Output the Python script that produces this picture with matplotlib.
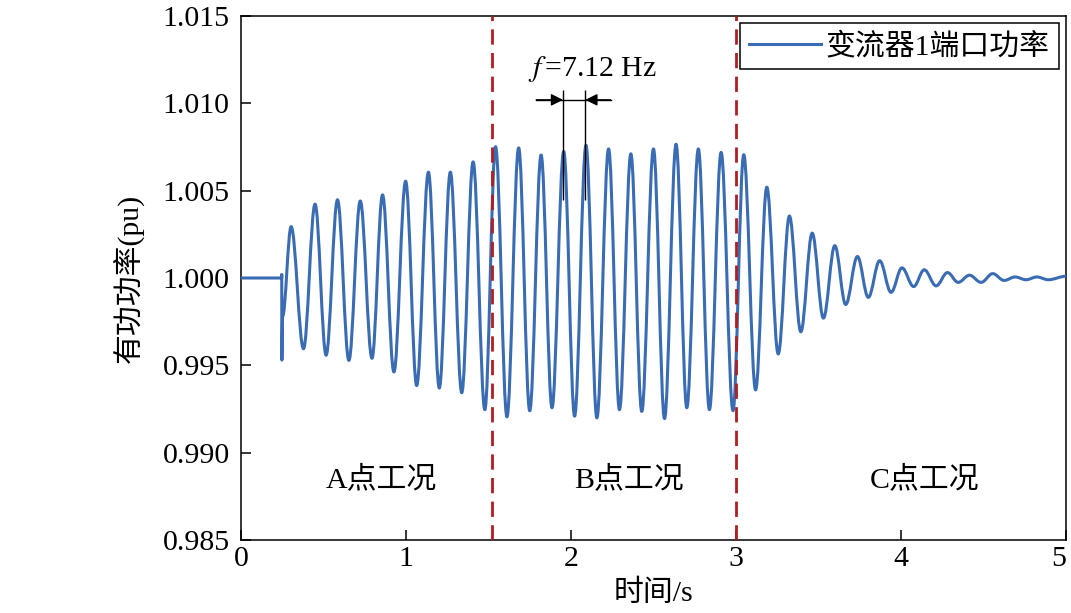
import matplotlib
matplotlib.use("Agg")
import matplotlib.pyplot as plt
from matplotlib.path import Path
from matplotlib.patches import PathPatch
from matplotlib.lines import Line2D
import matplotlib.transforms as mtransforms

plt.rcParams['font.family'] = ['Liberation Serif', 'Noto Sans CJK SC', 'DejaVu Sans']
plt.rcParams['mathtext.fontset'] = 'stix'
plt.rcParams['axes.unicode_minus'] = False

# ---- data ----
# flat start and the switching step
step_time = [0.0, 0.247, 0.247, 0.248, 0.252]
step_power = [1.0000, 1.0000, 1.0002, 0.9953, 0.9978]
# successive extrema (peak / trough) of the oscillation
ext_time = [0.304, 0.379, 0.449, 0.516, 0.585, 0.654, 0.723, 0.794, 0.858, 0.927,
            0.998, 1.065, 1.136, 1.202, 1.269, 1.338, 1.407, 1.478, 1.543, 1.612,
            1.683, 1.750, 1.819, 1.885, 1.956, 2.022, 2.091, 2.157, 2.228, 2.294,
            2.363, 2.429, 2.500, 2.567, 2.637, 2.702, 2.772, 2.839, 2.910, 2.982,
            3.047, 3.119, 3.187, 3.256, 3.324, 3.393, 3.462, 3.530, 3.599, 3.665,
            3.736, 3.802, 3.871, 3.940, 4.006, 4.077, 4.141, 4.213, 4.282, 4.347,
            4.415, 4.486, 4.556, 4.625, 4.692, 4.758, 4.823, 4.893, 5.0]
ext_power = [1.00294, 0.99595, 1.00423, 0.99558, 1.00448, 0.99528, 1.00441, 0.99540, 1.00476, 0.99462,
             1.00554, 0.99384, 1.00606, 0.99370, 1.00606, 0.99343, 1.00665, 0.99246, 1.00752, 0.99205,
             1.00745, 0.99240, 1.00704, 0.99257, 1.00725, 0.99209, 1.00760, 0.99199, 1.00739, 0.99246,
             1.00711, 0.99236, 1.00739, 0.99195, 1.00766, 0.99257, 1.00739, 0.99246, 1.00719, 0.99240,
             1.00706, 0.99359, 1.00520, 0.99565, 1.00355, 0.99692, 1.00257, 0.99770, 1.00185, 0.99848,
             1.00123, 0.99889, 1.00099, 0.99918, 1.00058, 0.99951, 1.00047, 0.99955, 1.00031, 0.99975,
             1.00016, 0.99975, 1.00025, 0.99986, 1.00006, 0.99990, 1.00006, 0.99990, 1.00010]

boundaries = [1.52, 3.0]
region_labels = ['A点工况', 'B点工况', 'C点工况']
region_label_x = [0.85, 2.35, 4.14]
region_label_y = 0.9885
series_label = '变流器1端口功率'
freq_text = r'$f\,$=7.12 Hz'
marked_peaks = [1.952, 2.087]

x_ticks = [0, 1, 2, 3, 4, 5]
y_ticks = [0.985, 0.990, 0.995, 1.000, 1.005, 1.010, 1.015]

FS = 21.5
blue = '#3a6cb4'
red = '#b01e23'

fig = plt.figure(figsize=(10.71, 6.13), dpi=100)
ax = fig.add_axes([0.2250, 0.1191, 0.7703, 0.8548])

# curve: straight segments for the step, smooth Bezier arcs between extrema
verts = [(step_time[0], step_power[0])]
codes = [Path.MOVETO]
for t, p in zip(step_time[1:], step_power[1:]):
    verts.append((t, p))
    codes.append(Path.LINETO)
prev_t, prev_p = step_time[-1], step_power[-1]
k = 0.364
for t, p in zip(ext_time, ext_power):
    dt = t - prev_t
    verts += [(prev_t + k * dt, prev_p), (t - k * dt, p), (t, p)]
    codes += [Path.CURVE4] * 3
    prev_t, prev_p = t, p
ax.add_patch(PathPatch(Path(verts, codes), facecolor='none', edgecolor=blue,
                       lw=2.2, capstyle='butt', joinstyle='round', zorder=3))

for b in boundaries:
    ax.axvline(b, color=red, lw=2.0, ls=(0, (5.5, 3.0)), zorder=4)

for lbl, xx in zip(region_labels, region_label_x):
    ax.text(xx, region_label_y, lbl, ha='center', va='center', fontsize=FS)

# frequency annotation
y_arrow = 1.0102
ax.vlines(marked_peaks, 1.00447, 1.01077, color='black', lw=1.0, zorder=5)
ax.plot([1.79, 2.24], [y_arrow, y_arrow], color='black', lw=1.0, zorder=5)
ax.annotate('', xy=(marked_peaks[0], y_arrow), xytext=(1.79, y_arrow),
            arrowprops=dict(arrowstyle='-|>', color='black', lw=1.0,
                            mutation_scale=18, shrinkA=0, shrinkB=0))
ax.annotate('', xy=(marked_peaks[1], y_arrow), xytext=(2.24, y_arrow),
            arrowprops=dict(arrowstyle='-|>', color='black', lw=1.0,
                            mutation_scale=18, shrinkA=0, shrinkB=0))
ax.text(2.133, 1.01195, freq_text, ha='center', va='center', fontsize=FS)

ax.set_xlim(0, 5)
ax.set_ylim(0.985, 1.015)
ax.set_xticks(x_ticks)
ax.set_xticklabels([str(v) for v in x_ticks])
ax.set_yticks(y_ticks)
ax.set_yticklabels(['%.3f' % v for v in y_ticks])
ax.tick_params(direction='in', length=7, width=1.1, labelsize=FS, pad=4,
               top=False, right=False)
ax.tick_params(axis='y', pad=8)
for s in ax.spines.values():
    s.set_linewidth(1.1)

# keep the last x tick label inside the canvas
last = ax.get_xticklabels()[-1]
last.set_transform(last.get_transform() +
                   mtransforms.ScaledTranslation(-5 / 72, 0, fig.dpi_scale_trans))

ax.set_xlabel('时间/s', fontsize=FS, labelpad=6)
ax.set_ylabel('有功功率(pu)', fontsize=FS, labelpad=13)

handle = Line2D([], [], color=blue, lw=2.2)
leg = ax.legend([handle], [series_label], loc='upper right', fontsize=FS,
                frameon=True, fancybox=False, edgecolor='black', framealpha=1,
                handlelength=2.4, handletextpad=0.15, borderpad=0.3,
                borderaxespad=0.25)
leg.get_frame().set_linewidth(1.1)

fig.savefig('out.png', dpi=100)
